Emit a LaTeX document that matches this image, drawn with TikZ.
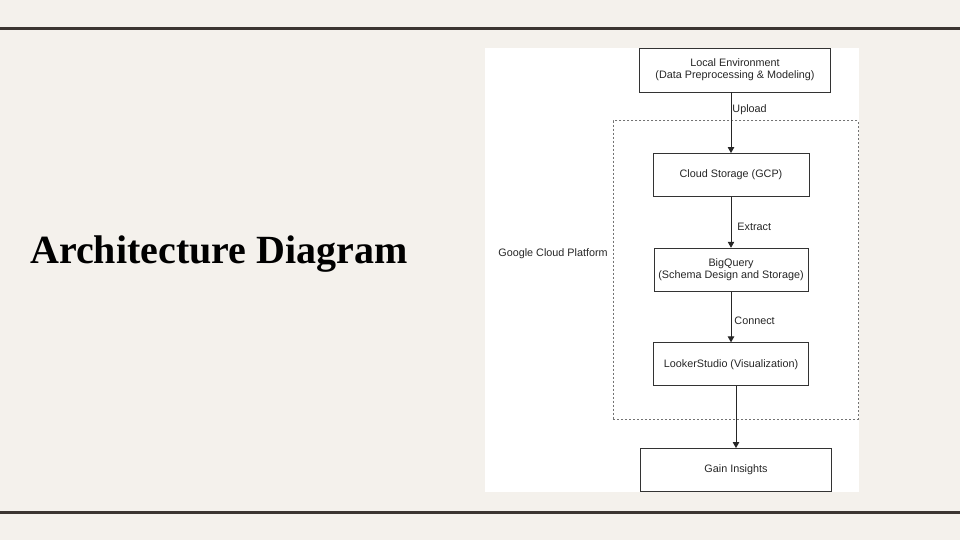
\documentclass[tikz,border=0pt]{standalone}
\usepackage{fontspec}
\setmainfont{Liberation Serif}
\newfontfamily\arialfont{Liberation Sans}
\usepackage{tikz}
\usetikzlibrary{arrows.meta,positioning,calc}
\definecolor{slidebg}{HTML}{F4F1EC}
\definecolor{rulebrown}{HTML}{3B3531}

\begin{document}
\begin{tikzpicture}[x=1pt, y=-1pt,
      box/.style={draw=black!80, line width=0.9pt, fill=white, align=center, inner sep=0pt,
        font=\arialfont\fontsize{10.8}{11.6}\selectfont, text=black!85},
      lbl/.style={font=\arialfont\fontsize{10.8}{12}\selectfont, text=black!85, anchor=west, inner sep=1pt},
      flow/.style={draw=black!85, line width=0.9pt, -{Triangle[length=6pt,width=6.5pt]}}]
  \fill[slidebg] (0,0) rectangle (960,540);
  \useasboundingbox (0,0) rectangle (960,540);
  \fill[rulebrown] (0,27) rectangle (960,30);
  \fill[rulebrown] (0,511) rectangle (960,514);
  \node[font=\bfseries\fontsize{40}{44}\selectfont, anchor=base west, inner sep=0pt] (title) at (30,263) {Architecture Diagram};
  \fill[white] (485,48) rectangle (859,492);
  % dotted frame round the cloud part
  \node[draw=black!55, dash pattern=on 2pt off 2pt, line width=0.9pt, minimum width=244.7pt, minimum height=298.6pt, inner sep=0pt] (gcp) at (735.65,270) {};
  \node[lbl, anchor=east] (gcplabel) at ([xshift=-4pt, yshift=16pt]gcp.west) {Google Cloud Platform};
  \node[box, minimum width=191pt, minimum height=44pt] (local) at (735,70) {Local Environment\\(Data Preprocessing \& Modeling)};
  \node[box, minimum width=156pt, minimum height=43pt] (storage) at (731,175) {Cloud Storage (GCP)};
  \node[box, minimum width=154pt, minimum height=43pt] (bigquery) at (731,269.7) {BigQuery\\(Schema Design and Storage)};
  \node[box, minimum width=155pt, minimum height=43pt] (looker) at (731,364.3) {LookerStudio (Visualization)};
  \node[box, minimum width=191pt, minimum height=43pt] (insights) at (736,470) {Gain Insights};
  \draw[flow] (storage.north |- local.south) -- node[lbl, pos=0.28] (upload) {Upload} (storage.north);
  \draw[flow] (storage.south) -- node[lbl, pos=0.58, xshift=5pt] (extract) {Extract} (bigquery.north);
  \draw[flow] (bigquery.south) -- node[lbl, pos=0.57, xshift=2pt] (connect) {Connect} (looker.north);
  \draw[flow] (insights.north |- looker.south) -- (insights.north);
\end{tikzpicture}
\end{document}
